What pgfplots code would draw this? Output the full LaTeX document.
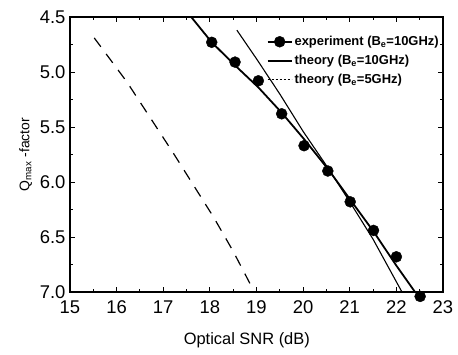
\documentclass[border=0pt]{standalone}
\usepackage{pgfplots}
\pgfplotsset{compat=1.18}
\usepackage{fontspec}
\setmainfont{Liberation Sans}
\begin{document}
\begin{tikzpicture}
\begin{axis}[
 at={(0,0)}, anchor=south west,
 scale only axis, width=373bp, height=275bp,
 xmin=15, xmax=23, ymin=4.5, ymax=7.0, y dir=reverse,
 xtick={15,16,...,23}, ytick={4.5,5.0,5.5,6.0,6.5,7.0},
 yticklabel style={/pgf/number format/fixed, /pgf/number format/fixed zerofill, /pgf/number format/precision=1, xshift=-1bp},
 xticklabel style={yshift=-5bp},
 minor x tick num=1, minor y tick num=1,
 tick align=inside, xtick pos=both, ytick pos=both,
 major tick length=5bp, minor tick length=3bp,
 axis line style={line width=1.6pt},
 tick style={line width=1pt, black},
 ticklabel style={font=\fontsize{18.5}{18.5}\selectfont},
 /pgf/number format/assume math mode=true,
 xlabel={Optical SNR (dB)}, ylabel={Q\textsubscript{max} -factor},
 xlabel style={font=\fontsize{16.5}{16.5}\selectfont, at={(axis description cs:0.474,0)}, anchor=center, yshift=-48bp},
 ylabel style={font=\fontsize{14}{14}\selectfont, at={(axis description cs:-0.119,0.5)}, anchor=center},
 legend style={draw=none, fill=none, at={(0.997,0.945)}, anchor=north east,
   font=\bfseries\fontsize{13}{13}\selectfont, row sep=4bp, inner xsep=1bp},
 legend cell align=left,
 clip=false,
]
\addplot[only marks, mark=*, mark size=5.5bp, black,
  legend image code/.code={\draw[line width=1.8pt] (0bp,0bp) -- (24bp,0bp); \fill (12bp,0bp) circle (5.5bp);}]
 coordinates {(18.04,4.73) (18.54,4.91) (19.04,5.08) (19.54,5.38) (20.02,5.67) (20.53,5.90) (21.01,6.18) (21.51,6.44) (22.0,6.68) (22.51,7.04)};
\addlegendentry{experiment (B\textsubscript{e}=10GHz)}
\addplot[black, line width=1.8pt, forget plot]
 coordinates {(17.6,4.5) (18.04,4.73) (18.54,4.94) (19.04,5.14) (19.54,5.37) (20.02,5.61) (20.53,5.88) (21.01,6.16) (21.51,6.45) (22.0,6.76) (22.4,7.0)};
\addplot[black, line width=1.1pt,
  legend image code/.code={\draw[line width=1.8pt] (0bp,0bp) -- (24bp,0bp);}]
 coordinates {(18.58,4.62) (19.0,4.88) (19.5,5.2) (20.0,5.54) (20.53,5.87) (21.0,6.18) (21.5,6.52) (22.12,7.0)};
\addlegendentry{theory (B\textsubscript{e}=10GHz)}
\addplot[black, line width=1.2pt, dash pattern=on 11bp off 9bp,
  legend image code/.code={\draw[line width=1.5pt, dash pattern=on 2bp off 2bp] (0bp,0bp) -- (24bp,0bp);}]
 coordinates {(15.52,4.69) (16.22,5.09) (17.22,5.74) (18.08,6.32) (18.5,6.63) (18.93,6.98)};
\addlegendentry{theory (B\textsubscript{e}=5GHz)}
\end{axis}
\path[use as bounding box] (-70bp,-63bp) rectangle (388bp,292bp);
\end{tikzpicture}
\end{document}
